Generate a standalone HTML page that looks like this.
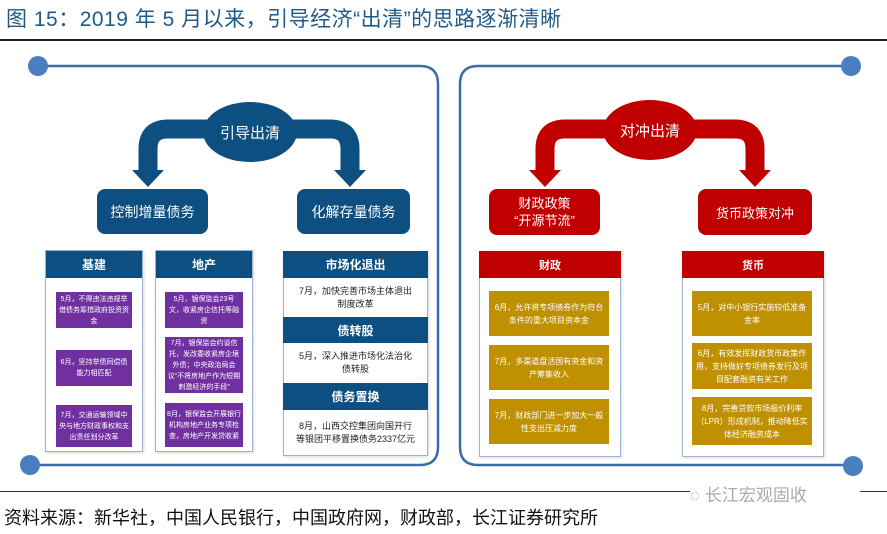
<!DOCTYPE html>
<html><head><meta charset="utf-8"><style>
body{margin:0;width:887px;height:534px;background:#fff;position:relative;overflow:hidden;font-family:"Liberation Sans","Noto Sans CJK SC",sans-serif}
.a{position:absolute;box-sizing:border-box}
.t{display:flex;align-items:center;justify-content:center;text-align:center}
.col{border:1px solid #9fb3cf;background:#fff;box-shadow:1px 1px 3px rgba(0,0,0,.15)}
.hb{background:#0d4f80;color:#fff;font-size:12px;font-weight:bold}
.pu{background:#7030a0;color:#fff;font-size:7px;line-height:11px;padding:2px}
.go{background:#bf9000;color:#fff;font-size:8px;line-height:13px;padding:2px}
.wt{color:#222;font-size:9px;line-height:13px}
.rh{background:#c00000;color:#fff;font-size:11px;font-weight:bold}
</style></head><body>
<div class="a" style="left:6px;top:3px;font-size:21px;letter-spacing:0.5px;color:#1f5a8a;white-space:nowrap">图 15：2019 年 5 月以来，引导经济“出清”的思路逐渐清晰</div>
<div class="a" style="left:0;top:39px;width:887px;height:2px;background:#222"></div>
<svg class="a" style="left:0;top:0" width="887" height="534">
<g fill="none" stroke="#3b6ea5" stroke-width="2.5">
<path d="M38,66 H420 Q438,66 438,84 V447 Q438,465 420,465 H30"/>
<path d="M851,66 H478 Q460,66 460,84 V447 Q460,465 478,465 H853"/>
</g>
<circle cx="38" cy="66" r="10" fill="#4a7fbf"/><circle cx="30" cy="465" r="10" fill="#4a7fbf"/>
<circle cx="851" cy="66" r="10" fill="#4a7fbf"/><circle cx="853" cy="466" r="10" fill="#4a7fbf"/>
<g fill="none" stroke="#0d4f80" stroke-width="19">
<path d="M215,129 H168 Q148,129 148,149 V172"/><path d="M285,129 H330 Q350,129 350,149 V172"/>
</g>
<g fill="#0d4f80"><path d="M132,170 H164 L148,187Z"/><path d="M334,170 H366 L350,187Z"/>
<ellipse cx="250" cy="132" rx="47" ry="30"/></g>
<g fill="none" stroke="#c00000" stroke-width="19">
<path d="M615,129 H565 Q545,129 545,149 V172"/><path d="M685,129 H735 Q755,129 755,149 V172"/>
</g>
<g fill="#c00000"><path d="M529,170 H561 L545,187Z"/><path d="M739,170 H771 L755,187Z"/>
<ellipse cx="650" cy="130" rx="47" ry="30"/></g>
<text x="250" y="138" fill="#fff" font-size="15" text-anchor="middle" font-family="Liberation Sans,Noto Sans CJK SC,sans-serif">引导出清</text>
<text x="650" y="136" fill="#fff" font-size="15" text-anchor="middle" font-family="Liberation Sans,Noto Sans CJK SC,sans-serif">对冲出清</text>
</svg>
<div class="a t" style="left:97px;top:189px;width:111px;height:45px;background:#0d4f80;border-radius:8px;color:#fff;font-size:14px">控制增量债务</div>
<div class="a t" style="left:297px;top:189px;width:113px;height:45px;background:#0d4f80;border-radius:8px;color:#fff;font-size:14px">化解存量债务</div>
<div class="a t" style="left:489px;top:189px;width:111px;height:46px;background:#c00000;border-radius:8px;color:#fff;font-size:13px;line-height:17px">财政政策<br>“开源节流”</div>
<div class="a t" style="left:698px;top:189px;width:114px;height:46px;background:#c00000;border-radius:8px;color:#fff;font-size:13px">货币政策对冲</div>

<div class="a col" style="left:45px;top:250px;width:98px;height:202px"></div>
<div class="a t hb" style="left:46px;top:251px;width:96px;height:27px">基建</div>
<div class="a t pu" style="left:56px;top:292px;width:76px;height:36px">5月，不得违法违规举借债务筹措政府投资资金</div>
<div class="a t pu" style="left:56px;top:350px;width:76px;height:36px">6月，坚持举债同偿债能力相匹配</div>
<div class="a t pu" style="left:56px;top:405px;width:76px;height:42px">7月，交通运输领域中央与地方财政事权和支出责任划分改革</div>
<div class="a col" style="left:155px;top:250px;width:98px;height:202px"></div>
<div class="a t hb" style="left:156px;top:251px;width:96px;height:27px">地产</div>
<div class="a t pu" style="left:165px;top:292px;width:78px;height:36px">5月，银保监会23号文，收紧房企信托等融资</div>
<div class="a t pu" style="left:165px;top:337px;width:78px;height:56px">7月，银保监会约谈信托，发改委收紧房企境外债；中央政治局会议“不将房地产作为短期刺激经济的手段”</div>
<div class="a t pu" style="left:165px;top:403px;width:78px;height:44px">8月，银保监会开展银行机构房地产业务专项检查，房地产开发贷收紧</div>

<div class="a col" style="left:283px;top:251px;width:145px;height:205px"></div>
<div class="a t hb" style="left:283px;top:251px;width:145px;height:27px">市场化退出</div>
<div class="a t wt" style="left:283px;top:279px;width:145px;height:38px">7月，加快完善市场主体退出<br>制度改革</div>
<div class="a t hb" style="left:283px;top:317px;width:145px;height:26px">债转股</div>
<div class="a t wt" style="left:283px;top:344px;width:145px;height:38px">5月，深入推进市场化法治化<br>债转股</div>
<div class="a t hb" style="left:283px;top:383px;width:145px;height:27px">债务置换</div>
<div class="a t wt" style="left:283px;top:411px;width:145px;height:43px">8月，山西交控集团向国开行<br>等银团平移置换债务2337亿元</div>

<div class="a col" style="left:479px;top:251px;width:142px;height:206px"></div>
<div class="a t rh" style="left:479px;top:251px;width:142px;height:27px">财政</div>
<div class="a t go" style="left:489px;top:291px;width:120px;height:45px">6月，允许将专项债券作为符合条件的重大项目资本金</div>
<div class="a t go" style="left:489px;top:345px;width:120px;height:45px">7月，多渠道盘活国有资金和资产筹集收入</div>
<div class="a t go" style="left:489px;top:399px;width:120px;height:45px">7月，财政部门进一步加大一般性支出压减力度</div>
<div class="a col" style="left:682px;top:251px;width:142px;height:206px"></div>
<div class="a t rh" style="left:682px;top:251px;width:142px;height:27px">货币</div>
<div class="a t go" style="left:692px;top:291px;width:120px;height:45px">5月，对中小银行实施较低准备金率</div>
<div class="a t go" style="left:692px;top:343px;width:120px;height:46px">6月，有效发挥财政货币政策作用，支持做好专项债券发行及项目配套融资有关工作</div>
<div class="a t go" style="left:692px;top:397px;width:120px;height:48px">8月，完善贷款市场报价利率（LPR）形成机制，推动降低实体经济融资成本</div>

<div class="a" style="left:0;top:491px;width:887px;height:1px;background:#333"></div>
<div class="a" style="left:690px;top:481px;width:170px;height:22px;background:#fff;color:#aaa;font-size:17px">◌ 长江宏观固收</div>
<div class="a" style="left:4px;top:504px;font-size:18px;color:#111;white-space:nowrap">资料来源：新华社，中国人民银行，中国政府网，财政部，长江证券研究所</div>
</body></html>
